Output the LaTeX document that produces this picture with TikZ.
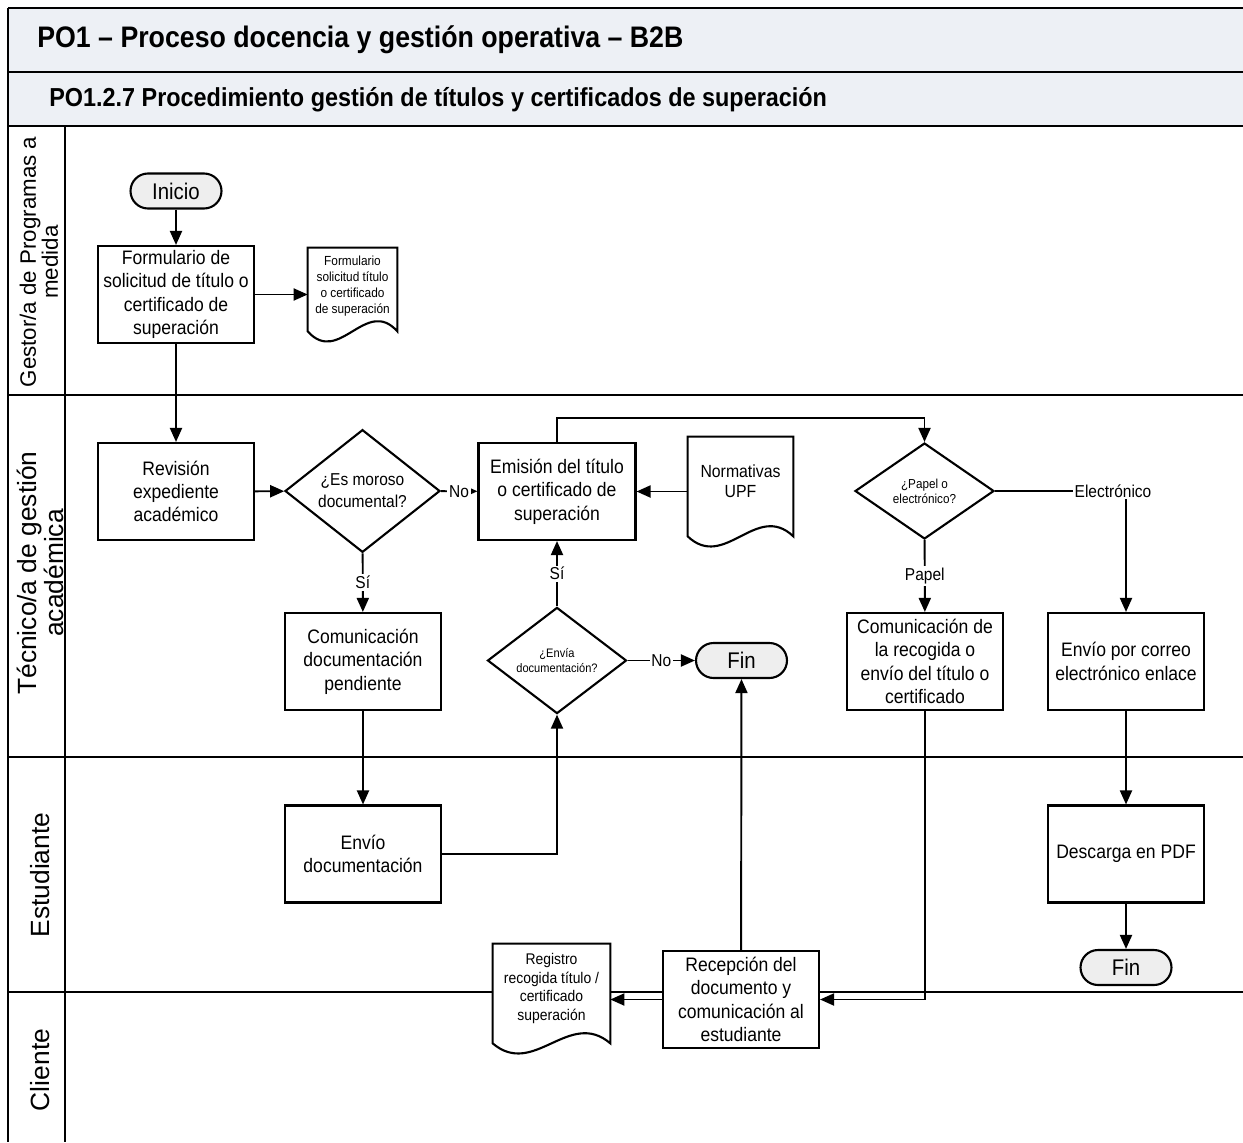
\documentclass[tikz,border=0pt]{standalone}
\usepackage{fontspec}
\setmainfont[FakeStretch=0.9]{Liberation Sans}
\newfontfamily\lanefont{Liberation Sans}
\usetikzlibrary{shapes.geometric,arrows.meta,calc}
\pgfdeclarelayer{bg}\pgfdeclarelayer{mid}\pgfsetlayers{bg,mid,main}
\definecolor{bandfill}{RGB}{237,240,245}
\definecolor{termgray}{RGB}{238,238,238}
\newcommand\tightlines{\setlength{\lineskiplimit}{-20pt}}
\newcommand\docoutline[2]{%
  \path ($(#1.south west)+(0,#2)$) coordinate (#1-l) ($(#1.south east)+(0,#2)$) coordinate (#1-r);
  \draw[boxline,fill=white] (#1.north west) -- (#1.north east) -- (#1-r)
    .. controls ($(#1-r)!0.35!(#1-l)+(0pt,20pt)$) and ($(#1-r)!0.65!(#1-l)+(0pt,-20pt)$) .. (#1-l) -- cycle;}
\begin{document}
\begin{tikzpicture}[x=0.02cm,y=-0.02cm,
  boxline/.style={draw=black,line width=1.2pt},
  proc/.style={boxline,fill=white,rectangle,minimum width=3.12cm,minimum height=1.94cm,inner sep=0pt,align=center,font={\fontsize{11.1}{13.3}\selectfont\tightlines}},
  term/.style={boxline,fill=termgray,rectangle,rounded corners=0.35cm,minimum width=1.82cm,minimum height=0.7cm,inner sep=0pt,font=\fontsize{12.9}{14}\selectfont},
  dec/.style={boxline,fill=white,diamond,inner sep=0pt,align=center},
  docn/.style={rectangle,inner sep=0pt,align=center},
  conn/.style={line width=1.1pt,-{Triangle[length=0.28cm,width=0.24cm]}},
  lbl/.style={fill=white,inner sep=1pt,font=\fontsize{9.8}{11}\selectfont},
  lane/.style={line width=1.6pt},
  lanetxt/.style={rotate=90,align=center,inner sep=0pt}
]
\useasboundingbox (0,0) rectangle (1243,1142);
\begin{pgfonlayer}{bg}
\fill[bandfill] (8,8) rectangle (1243,126);
\draw[lane] (8,8) -- (1243,8);
\draw[lane] (8,8) -- (8,1142);
\draw[lane] (8,72) -- (1243,72);
\draw[lane] (8,126) -- (1243,126);
\draw[lane] (8,395) -- (1243,395);
\draw[lane] (8,757) -- (1243,757);
\draw[lane] (8,992) -- (1243,992);
\draw[line width=1.1pt] (65,126) -- (65,1142);
\end{pgfonlayer}

\node[anchor=base west,font=\bfseries\fontsize{16.9}{19}\selectfont,inner sep=0pt] (title) at (37,48) {PO1 – Proceso docencia y gestión operativa – B2B};
\node[anchor=base west,font=\bfseries\fontsize{14.8}{17}\selectfont,inner sep=0pt] (sub) at (49,107) {PO1.2.7 Procedimiento gestión de títulos y certificados de superación};

\node[lanetxt,font={\lanefont\fontsize{12.7}{12.5}\selectfont\tightlines}] (l1) at (39,262) {Gestor/a de Programas a\\medida};
\node[lanetxt,font={\lanefont\fontsize{15}{15.3}\selectfont\tightlines}] (l2) at (40,573) {Técnico/a de gestión\\académica};
\node[lanetxt,font={\lanefont\fontsize{15}{18}\selectfont}] (l3) at (40,875) {Estudiante};
\node[lanetxt,font={\lanefont\fontsize{15}{18}\selectfont}] (l4) at (40,1070) {Cliente};

\node[term] (ini) at (176,191) {Inicio};
\node[proc] (form) at (176,294.5) {Formulario de\\solicitud de título o\\certificado de\\superación};
\node[docn,minimum width=1.78cm,minimum height=1.52cm,font=\fontsize{7.5}{9.1}\selectfont] (fdoc) at (352.5,286) {Formulario\\solicitud título\\o certificado\\de superación};
\node[proc] (rev) at (176,491.5) {Revisión\\expediente\\académico};
\node[dec,minimum width=3.1cm,minimum height=1.92cm,font=\fontsize{9.8}{12.5}\selectfont] (mor) at (362.5,491) {¿Es moroso\\documental?};
\node[proc,minimum width=3.14cm] (emi) at (557,491.5) {Emisión del título\\o certificado de\\superación};
\node[docn,minimum width=2.1cm,minimum height=1.76cm,font=\fontsize{10}{11.5}\selectfont] (nor) at (740.5,481) {Normativas\\UPF};
\node[dec,minimum width=2.78cm,minimum height=1.92cm,font=\fontsize{7.4}{8.6}\selectfont] (pap) at (924.5,491) {¿Papel o\\electrónico?};
\node[proc] (comp) at (363,661.5) {Comunicación\\documentación\\pendiente};
\node[dec,minimum width=2.78cm,minimum height=1.9cm,font=\fontsize{7}{9}\selectfont] (env) at (557,660.5) {¿Envía\\documentación?};
\node[term] (fin1) at (741.5,660.5) {Fin};
\node[proc] (comr) at (925,661.5) {Comunicación de\\la recogida o\\envío del título o\\certificado};
\node[proc] (mail) at (1126,661.5) {Envío por correo\\electrónico enlace};
\node[proc] (envd) at (363,854) {Envío\\documentación};
\node[proc] (pdf) at (1126,854) {Descarga en PDF};
\node[term] (fin2) at (1126,967.5) {Fin};
\node[proc] (rec) at (741,999.5) {Recepción del\\documento y\\comunicación al\\estudiante};
\node[docn,minimum width=2.34cm,minimum height=1.78cm,font=\fontsize{8.8}{10.8}\selectfont] (reg) at (551.5,988.5) {Registro\\recogida título /\\certificado\\superación};

\begin{pgfonlayer}{mid}
\docoutline{fdoc}{7}
\docoutline{nor}{11}
\docoutline{reg}{10}
\end{pgfonlayer}

\draw[conn] (ini) -- (form);
\draw[conn] (form.east) -- (form.east -| fdoc.west);
\draw[conn] (form) -- (rev);
\draw[conn] (rev) -- (mor);
\draw[conn] (mor) -- node[lbl]{No} (emi);
\draw[conn] (mor) -- node[lbl]{Sí} (comp);
\draw[conn] (emi.east -| nor.west) -- (emi.east);
\draw[conn] (emi.north) -- ++(0,-24) -| (pap.north);
\draw[conn] (pap) -- node[lbl]{Papel} (comr);
\draw[conn] (pap.east) -| coordinate[pos=0.5] (ecorner) (mail.north);
\node[lbl] (elab) at ($(ecorner)+(-13,0)$) {Electrónico};
\draw[conn] (env) -- node[lbl]{Sí} (emi);
\draw[conn] (env) -- node[lbl]{No} (fin1);
\draw[conn] (comp) -- (envd);
\draw[conn] (envd.east) -| (env.south);
\draw[conn] (rec) -- (fin1);
\draw[conn] (comr.south) |- (rec.east);
\draw[conn] (rec.west) -- (rec.west -| reg.east);
\draw[conn] (mail) -- (pdf);
\draw[conn] (pdf) -- (fin2);
\end{tikzpicture}
\end{document}
